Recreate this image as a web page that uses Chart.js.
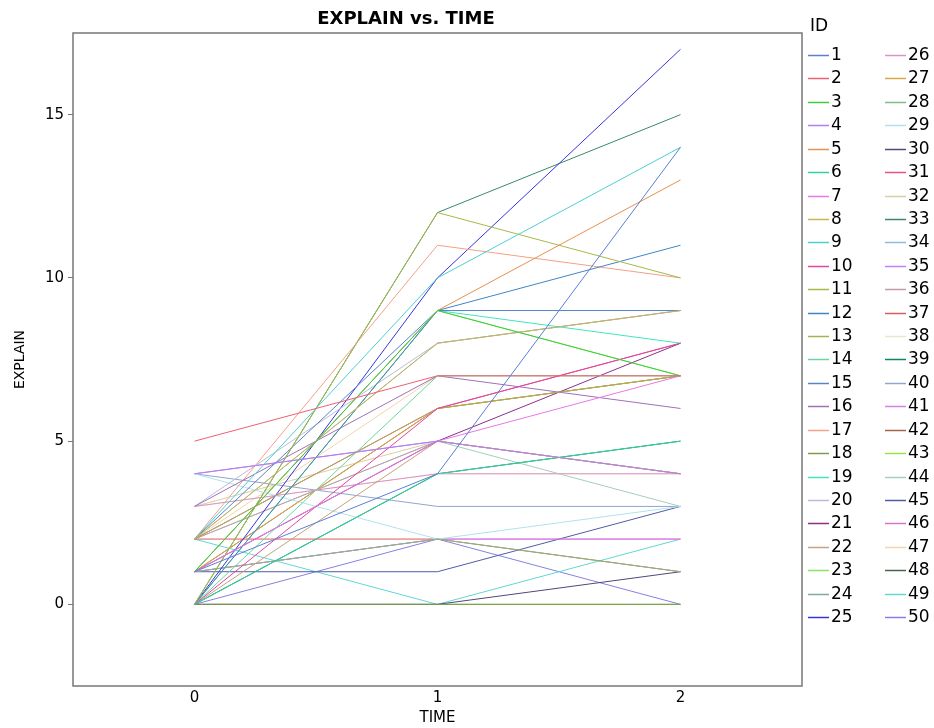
<!DOCTYPE html>
<html>
<head>
<meta charset="utf-8">
<script src="https://cdn.jsdelivr.net/npm/chart.js@4.4.1/dist/chart.umd.min.js"></script>
<style>
  html, body { margin: 0; padding: 0; background: #fff; }
  #wrap { width: 934px; height: 728px; }
</style>
</head>
<body>
<div id="wrap"><canvas id="chart" width="934" height="728"></canvas></div>
<script>
// TIME points on the x axis
const times = [0, 1, 2];
const xTicks = [0, 1, 2];
const yTicks = [0, 5, 10, 15];

// subject IDs 1..50
const ids = [
  1, 2, 3, 4, 5, 6, 7, 8, 9, 10, 11, 12, 13, 14, 15, 16, 17, 18, 19, 20, 21, 22, 23, 24, 25,
  26, 27, 28, 29, 30, 31, 32, 33, 34, 35, 36, 37, 38, 39, 40, 41, 42, 43, 44, 45, 46, 47, 48, 49, 50
];

// EXPLAIN at TIME 0, 1, 2 (one entry per ID)
const explainT0 = [
  1, 5, 1, 4, 1, 0, 1, 2, 2, 0, 0, 0, 2, 0, 2, 3, 2, 0, 1, 3, 1, 0, 0, 0, 0,
  3, 1, 1, 4, 0, 2, 3, 0, 2, 4, 2, 2, 3, 0, 4, 1, 1, 0, 2, 1, 1, 2, 0, 2, 0
];
const explainT1 = [
  4, 7, 9, 5, 9, 4, 5, 8, 10, 6, 12, 9, 6, 7, 9, 7, 11, 0, 9, 8, 5, 5, 9, 9, 10,
  4, 6, 2, 2, 0, 6, 5, 12, 8, 5, 5, 2, 4, 4, 3, 2, 6, 0, 5, 1, 2, 7, 0, 0, 2
];
const explainT2 = [
  14, 7, 7, 4, 13, 5, 7, 9, 14, 8, 10, 11, 7, 7, 9, 6, 10, 0, 8, 9, 8, 4, 7, 9, 17,
  4, 7, 1, 3, 1, 8, 4, 15, 9, 4, 4, 1, 4, 5, 3, 2, 7, 0, 3, 3, 2, 7, 0, 2, 0
];

const idColors = [
  '#5a7fd6', '#ee6070', '#3ccf3c', '#b07ef0', '#e8904c', '#33d0a0', '#e878e6', '#c8b450', '#4ccfd0', '#e0479e',
  '#a8b848', '#3f86c6', '#a8b050', '#6cd6a0', '#5a84c4', '#a070b8', '#f4a088', '#7f9c50', '#40e6c0', '#b8bcd8',
  '#8b2f8b', '#c9a07c', '#88e660', '#7faaa0', '#3535dd', '#e092c4', '#d8a848', '#80bc80', '#b0e2ee', '#504878',
  '#e8508c', '#d8d0a4', '#3a8a68', '#8cbcd8', '#c080f8', '#c09ca8', '#d85c5c', '#e4e8d0', '#0a8a56', '#90a6cc',
  '#da7ee8', '#a46448', '#98e440', '#a4cebe', '#4e5ca8', '#d870d0', '#f4d4ac', '#46664a', '#60d8d2', '#8680e0'
];

const datasets = ids.map((id, i) => ({
  label: String(id),
  data: times.map((t, k) => ({ x: t, y: [explainT0, explainT1, explainT2][k][i] })),
  borderColor: idColors[i],
  backgroundColor: idColors[i],
  borderWidth: 1,
  pointRadius: 0,
  tension: 0,
  fill: false
}));

// 枠線（上と右も含む）
const framePlugin = {
  id: 'frame',
  afterDraw(chart) {
    const { ctx, chartArea: a } = chart;
    ctx.save();
    ctx.strokeStyle = '#777';
    ctx.lineWidth = 1.5;
    ctx.strokeRect(a.left, a.top, a.right - a.left, a.bottom - a.top);
    ctx.restore();
  }
};

// タイトル
const titlePlugin = {
  id: 'plotTitle',
  afterDraw(chart) {
    const ctx = chart.ctx;
    ctx.save();
    ctx.fillStyle = '#000';
    ctx.font = 'bold 18px "DejaVu Sans"';
    ctx.textAlign = 'center';
    ctx.textBaseline = 'middle';
    ctx.fillText('EXPLAIN vs. TIME', 406, 19);
    ctx.restore();
  }
};

// 2列の凡例
const legendPlugin = {
  id: 'idLegend',
  afterDraw(chart) {
    const ctx = chart.ctx;
    ctx.save();
    ctx.fillStyle = '#000';
    ctx.font = '17px "DejaVu Sans"';
    ctx.textBaseline = 'middle';
    ctx.textAlign = 'left';
    ctx.fillText('ID', 810, 27);
    chart.data.datasets.forEach((ds, i) => {
      const col = i < 25 ? 0 : 1;
      const row = i % 25;
      const y = Math.round(55 + row * 23.42) + 0.5;
      const x0 = col === 0 ? 808 : 885;
      ctx.strokeStyle = ds.borderColor;
      ctx.lineWidth = 1.5;
      ctx.beginPath();
      ctx.moveTo(x0, y);
      ctx.lineTo(x0 + 21, y);
      ctx.stroke();
      ctx.fillStyle = '#000';
      ctx.fillText(ds.label, x0 + 23, y);
    });
    ctx.restore();
  }
};

const ctx = document.getElementById('chart').getContext('2d');
new Chart(ctx, {
  type: 'line',
  data: { datasets },
  options: {
    responsive: false,
    animation: false,
    devicePixelRatio: 1,
    layout: { padding: { top: 33, right: 132, left: 0, bottom: 0 } },
    plugins: {
      legend: { display: false },
      title: { display: false },
      tooltip: { enabled: false }
    },
    scales: {
      x: {
        type: 'linear',
        min: -0.5,
        max: 2.5,
        afterBuildTicks: (scale) => { scale.ticks = xTicks.map(v => ({ value: v })); },
        afterFit: (scale) => { scale.height = 42; },
        grid: { display: false, drawTicks: false, tickLength: 0 },
        border: { display: false },
        ticks: { color: '#000', font: { family: 'DejaVu Sans', size: 15 }, padding: 3, maxRotation: 0 },
        title: { display: true, text: 'TIME', color: '#000', font: { family: 'DejaVu Sans', size: 15 }, padding: { top: 0, bottom: 1 } }
      },
      y: {
        type: 'linear',
        min: -2.5,
        max: 17.5,
        afterBuildTicks: (scale) => { scale.ticks = yTicks.map(v => ({ value: v })); },
        afterFit: (scale) => { scale.width = 73; },
        grid: { drawOnChartArea: false, drawTicks: true, tickLength: 5, color: '#777' },
        border: { display: false },
        ticks: { color: '#000', font: { family: 'DejaVu Sans', size: 15 }, padding: 4 },
        title: { display: true, text: 'EXPLAIN', color: '#000', font: { family: 'DejaVu Sans', size: 14 }, padding: { top: 12, bottom: 0 } }
      }
    }
  },
  plugins: [framePlugin, titlePlugin, legendPlugin]
});
</script>
</body>
</html>
